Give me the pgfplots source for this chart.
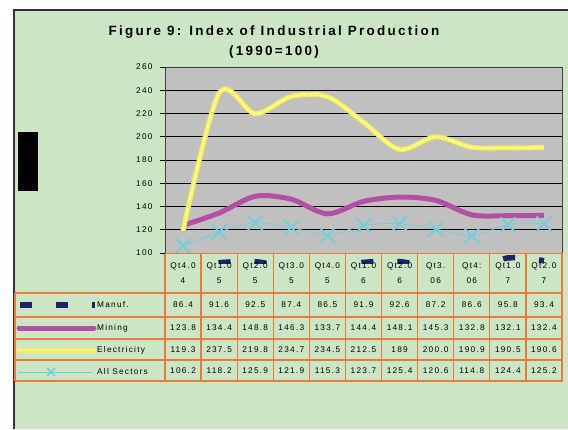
\documentclass[border=0pt]{standalone}
\usepackage{pgfplots}
\pgfplotsset{compat=1.18}
\usepackage{pgfplotstable}
\usepackage{fontspec}
\setmainfont{Liberation Sans}
\newfontfamily\titlefont[LetterSpace=17]{Liberation Sans}
\newfontfamily\tabfont[LetterSpace=15]{Liberation Sans}

\definecolor{bggreen}{HTML}{CCE5C4}
\definecolor{plotgray}{HTML}{C0C0C0}
\definecolor{tblorange}{HTML}{E97B3A}
\definecolor{cmanuf}{HTML}{1F2266}
\definecolor{cmining}{HTML}{B54FA6}
\definecolor{celec}{HTML}{F3EF4E}
\definecolor{celeclt}{HTML}{FFFDC0}
\definecolor{call}{HTML}{6FD0DC}

% quarter data, x at category centres
\pgfplotstableread{
x    top    bot  manuf  mining  elec   all
0.5  Qt4.0  4    86.4   123.8   119.3  106.2
1.5  Qt1.0  5    91.6   134.4   237.5  118.2
2.5  Qt2.0  5    92.5   148.8   219.8  125.9
3.5  Qt3.0  5    87.4   146.3   234.7  121.9
4.5  Qt4.0  5    86.5   133.7   234.5  115.3
5.5  Qt1.0  6    91.9   144.4   212.5  123.7
6.5  Qt2.0  6    92.6   148.1   189    125.4
7.5  Qt3.   06   87.2   145.3   200.0  120.6
8.5  Qt4:   06   86.6   132.8   190.9  114.8
9.5  Qt1.0  7    95.8   132.1   190.5  124.4
10.5 Qt2.0  7    93.4   132.4   190.6  125.2
}\datatable

\begin{document}
\begin{tikzpicture}[x=1bp,y=1bp]
\path[use as bounding box] (0,0) rectangle (568,-429);
\fill[white] (0,0) rectangle (568,-429);
\fill[bggreen] (13,-10) rectangle (568,-429);
\draw[black!80, line width=2bp] (14,-429) -- (14,-10) -- (568,-10);
\fill[black] (18,-132) rectangle (38,-191);

\node[font=\titlefont\bfseries\fontsize{13.5}{15}\selectfont] at (274,-32) {Figure 9: Index of Industrial Production};
\node[font=\titlefont\bfseries\fontsize{13.5}{15}\selectfont] at (274,-52) {(1990=100)};

\begin{axis}[
    at={(165bp,-253bp)}, anchor=south west,
    scale only axis,
    width=397bp, height=186bp,
    xmin=0, xmax=11, ymin=100, ymax=260,
    xtick=\empty,
    ytick={100,120,...,260},
    ytick pos=left,
    tick align=outside,
    major tick length=5bp,
    tick style={black, line width=0.8bp},
    axis background/.style={fill=plotgray},
    axis line style={black!75, line width=1bp},
    ymajorgrids,
    grid style={black, line width=0.7bp},
    /pgf/number format/assume math mode=true,
    yticklabel style={font=\tabfont\fontsize{8.3}{9}\selectfont, xshift=-4bp},
]
\addplot[cmining, line width=5bp, smooth] table[x=x, y=mining] {\datatable};
\addplot[celec, line width=5bp, smooth] table[x=x, y=elec] {\datatable};
\addplot[celeclt, line width=2.5bp, smooth, dash pattern=on 1.2bp off 1.2bp] table[x=x, y=elec] {\datatable};
\addplot[call, line width=0.8bp, smooth, mark=x, mark size=10.5bp,
    mark options={line width=1.8bp, solid}] table[x=x, y=all] {\datatable};
\end{axis}

% Manuf. sits below the axis minimum: only its top slice shows, as in the original
\begin{axis}[
    at={(165bp,-263bp)}, anchor=south west,
    scale only axis,
    width=397bp, height=196bp,
    xmin=0, xmax=11, ymin=91.4, ymax=260,
    hide axis,
]
\addplot[cmanuf, line width=5.5bp, smooth, dash pattern=on 12bp off 24bp] table[x=x, y=manuf] {\datatable};
\end{axis}

% data table
\begin{scope}[tblorange, line width=1.2bp]
\draw (165,-253.5) -- (563,-253.5);
\foreach \yy in {293,317,339,360,381} \draw (15,-\yy) -- (563,-\yy);
\draw (15,-293) -- (15,-381);
\foreach \k in {0,...,11} \draw ({165+397/11*\k},-253.5) -- ({165+397/11*\k},-381);
\end{scope}

\foreach \i in {0,...,10} {
  \pgfmathsetmacro\cx{165+397/11*(\i+0.5)}
  \pgfplotstablegetelem{\i}{top}\of\datatable
  \node[font=\tabfont\fontsize{8.3}{9}\selectfont] at (\cx,-266) {\pgfplotsretval};
  \pgfplotstablegetelem{\i}{bot}\of\datatable
  \node[font=\tabfont\fontsize{8.3}{9}\selectfont] at (\cx,-281) {\pgfplotsretval};
  \pgfplotstablegetelem{\i}{manuf}\of\datatable
  \node[font=\tabfont\fontsize{8.3}{9}\selectfont] at (\cx,-305) {\pgfplotsretval};
  \pgfplotstablegetelem{\i}{mining}\of\datatable
  \node[font=\tabfont\fontsize{8.3}{9}\selectfont] at (\cx,-328) {\pgfplotsretval};
  \pgfplotstablegetelem{\i}{elec}\of\datatable
  \node[font=\tabfont\fontsize{8.3}{9}\selectfont] at (\cx,-349.5) {\pgfplotsretval};
  \pgfplotstablegetelem{\i}{all}\of\datatable
  \node[font=\tabfont\fontsize{8.3}{9}\selectfont] at (\cx,-371) {\pgfplotsretval};
}

% legend keys in the first column
\draw[cmanuf, line width=6bp, dash pattern=on 12bp off 24bp] (20,-305) -- (95,-305);
\draw[cmining, line width=5bp, line cap=round] (19,-328) -- (94,-328);
\draw[celec, line width=5bp] (17,-350) -- (96,-350);
\draw[celeclt, line width=2.5bp, dash pattern=on 1.2bp off 1.2bp] (17,-350) -- (96,-350);
\draw[call, line width=0.8bp] (18,-372) -- (92,-372);
\draw[call, line width=1.6bp] (51,-372) +(-4,-4) -- +(4,4) +(-4,4) -- +(4,-4);
\foreach \lab/\yy in {Manuf./305, Mining/328, Electricity/350, All Sectors/372}
  \node[anchor=west, inner sep=0pt, font=\tabfont\fontsize{8.3}{9}\selectfont] at (97,-\yy) {\lab};
\end{tikzpicture}
\end{document}
